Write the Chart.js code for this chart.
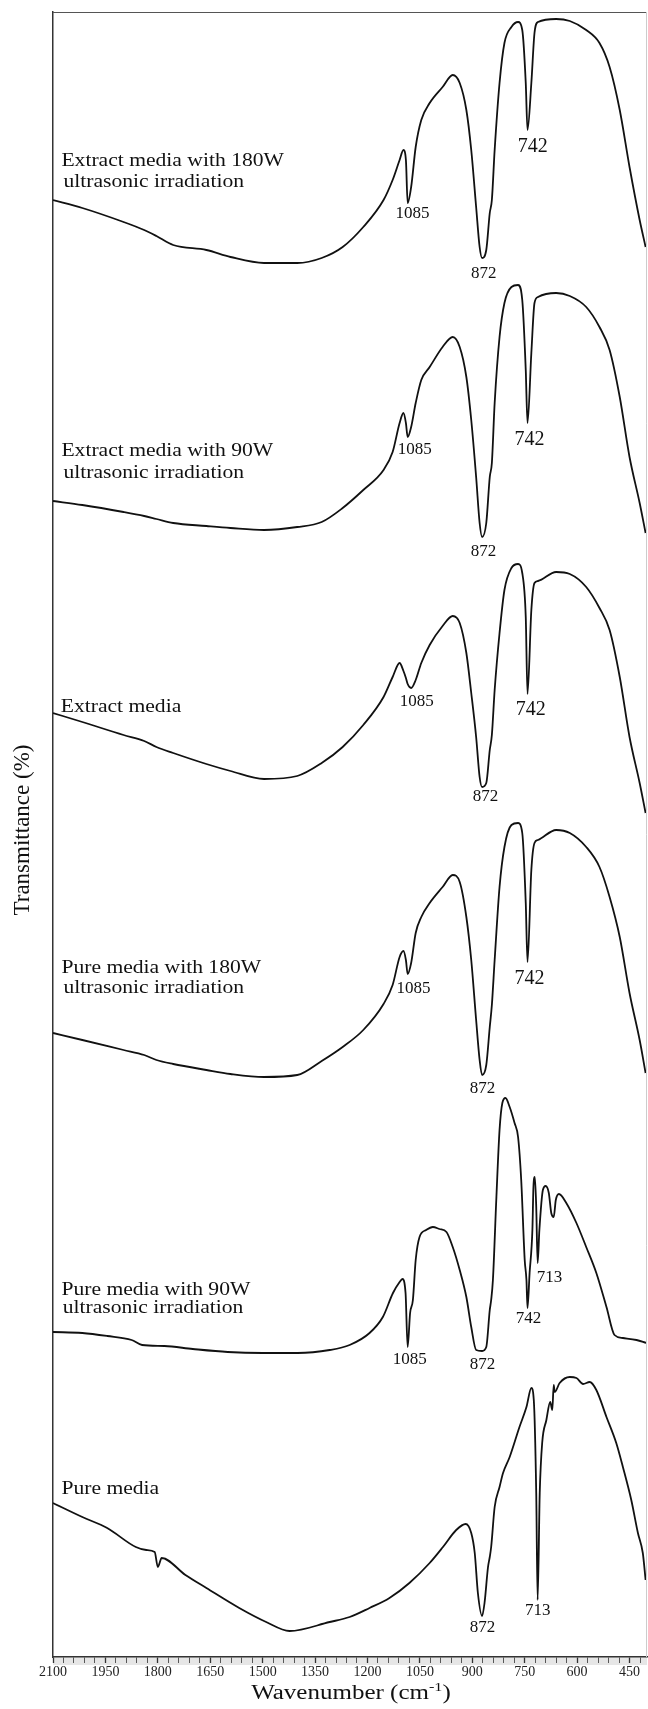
<!DOCTYPE html>
<html>
<head>
<meta charset="utf-8">
<script src="https://cdn.jsdelivr.net/npm/chart.js@4.4.1/dist/chart.umd.min.js"></script>
<style>
  html, body { margin: 0; padding: 0; background: #fff; }
  canvas { display: block; }
</style>
</head>
<body>
<canvas id="ftir" width="648" height="1709"></canvas>
<script>
// wavenumbers (cm-1) shared by the four upper spectra
const wnA = [2100, 2016, 1898, 1839, 1804, 1756, 1661, 1592, 1496, 1401,
  1331, 1271, 1212, 1154, 1128, 1108, 1097, 1090, 1085, 1075,
  1062, 1046, 1022, 985, 956, 936, 917, 903, 889, 879,
  872, 860, 850, 844, 836, 822, 808, 788, 769, 757,
  747, 742, 731, 722, 712, 660, 621, 574, 536, 507,
  478, 450, 421, 404];

// transmittance, stacked (arbitrary units, offset per spectrum)
const extract180 = [1457, 1449, 1435, 1427, 1421, 1412, 1407, 1400, 1394, 1394,
  1399, 1410, 1430, 1457, 1477, 1497, 1507, 1497, 1454, 1470,
  1510, 1537, 1554, 1570, 1582, 1574, 1547, 1507, 1450, 1410,
  1399, 1407, 1444, 1457, 1507, 1574, 1614, 1630, 1635, 1627,
  1574, 1527, 1574, 1624, 1635, 1638, 1636, 1627, 1614, 1590,
  1547, 1490, 1437, 1410];
const extract90 = [1156, 1152, 1145, 1141, 1138, 1134, 1131, 1129, 1127, 1130,
  1135, 1149, 1167, 1187, 1205, 1234, 1244, 1234, 1220, 1230,
  1254, 1277, 1290, 1310, 1320, 1310, 1280, 1237, 1180, 1134,
  1120, 1134, 1180, 1194, 1254, 1320, 1354, 1370, 1372, 1357,
  1287, 1234, 1304, 1354, 1360, 1364, 1361, 1350, 1330, 1307,
  1260, 1200, 1154, 1124];
const extractMedia = [944, 935, 922, 916, 910, 904, 893, 886, 878, 881,
  894, 910, 932, 960, 980, 994, 986, 979, 973, 969,
  977, 994, 1012, 1031, 1041, 1034, 1004, 964, 920, 880,
  870, 874, 907, 922, 967, 1024, 1067, 1089, 1093, 1084,
  1040, 963, 1047, 1074, 1076, 1085, 1083, 1070, 1049, 1027,
  980, 920, 874, 844];
const pure180 = [624, 617, 607, 602, 597, 593, 587, 583, 580, 582,
  596, 610, 627, 653, 672, 700, 706, 697, 683, 694,
  724, 740, 754, 770, 782, 775, 740, 697, 637, 597,
  582, 592, 630, 652, 697, 770, 810, 832, 834, 824,
  754, 695, 787, 814, 817, 827, 824, 810, 790, 760,
  720, 664, 617, 584];

const wnPure90 = [2100, 2016, 1945, 1875, 1845, 1781, 1700, 1600, 1500, 1400,
  1308, 1251, 1194, 1156, 1127, 1108, 1100, 1091, 1085, 1078,
  1070, 1062, 1051, 1032, 1013, 994, 974, 956, 936, 917,
  903, 889, 872, 860, 850, 846, 841, 831, 822, 814,
  805, 793, 779, 769, 760, 750, 745, 742, 736, 728,
  725, 721, 717, 713, 708, 698, 690, 681, 674, 667,
  661, 652, 631, 602, 574, 545, 516, 493, 469, 430,
  402];
const pure90 = [325, 324, 321, 317, 312, 311, 308, 305, 304, 304,
  307, 312, 324, 340, 364, 375, 378, 364, 310, 344,
  357, 397, 420, 427, 430, 428, 425, 410, 387, 360,
  330, 307, 306, 310, 347, 357, 377, 460, 527, 554,
  559, 550, 534, 520, 477, 397, 377, 349, 384, 427,
  470, 480, 450, 394, 427, 467, 471, 464, 444, 440,
  457, 463, 454, 434, 410, 384, 350, 322, 319, 317,
  314];

const wnPure = [2100, 2016, 1945, 1863, 1833, 1809, 1800, 1789, 1721, 1661,
  1567, 1490, 1423, 1308, 1251, 1194, 1137, 1080, 1022, 984,
  946, 919, 903, 893, 884, 872, 865, 855, 850, 846,
  836, 822, 812, 793, 765, 745, 731, 724, 717, 713,
  707, 700, 688, 677, 671, 667, 664, 650, 621, 602,
  583, 564, 545, 516, 488, 469, 445, 426, 412, 404];
const pure = [154, 140, 129, 110, 107, 105, 90, 99, 82, 69,
  49, 35, 26, 35, 40, 49, 59, 74, 94, 110,
  127, 133, 124, 104, 64, 41, 54, 90, 100, 110,
  150, 170, 184, 200, 230, 250, 269, 257, 164, 57,
  164, 214, 237, 255, 247, 272, 265, 274, 280, 279,
  273, 275, 267, 240, 214, 190, 157, 124, 104, 77];

const tickLabels = [2100, 1950, 1800, 1650, 1500, 1350, 1200, 1050, 900, 750, 600, 450];

// text placed on the plot (wavenumber / stacked value)
const nameLabels = [
  { text: 'Extract media with 180W', wn: 2076, v: 1491 },
  { text: 'ultrasonic irradiation', wn: 2070, v: 1470 },
  { text: 'Extract media with 90W', wn: 2076, v: 1201 },
  { text: 'ultrasonic irradiation', wn: 2070, v: 1179 },
  { text: 'Extract media', wn: 2078, v: 945 },
  { text: 'Pure media with 180W', wn: 2076, v: 684 },
  { text: 'ultrasonic irradiation', wn: 2070, v: 664 },
  { text: 'Pure media with 90W', wn: 2076, v: 362 },
  { text: 'ultrasonic irradiation', wn: 2072, v: 344 },
  { text: 'Pure media', wn: 2076, v: 163 }
];
const peakLabels = [
  { text: '1085', wn: 1071, v: 1443 }, { text: '872', wn: 867, v: 1383 }, { text: '742', wn: 727, v: 1510, big: true },
  { text: '1085', wn: 1065, v: 1207 }, { text: '872', wn: 868, v: 1105 }, { text: '742', wn: 736, v: 1217, big: true },
  { text: '1085', wn: 1059, v: 955 }, { text: '872', wn: 862, v: 860 }, { text: '742', wn: 733, v: 947, big: true },
  { text: '1085', wn: 1068, v: 668 }, { text: '872', wn: 871, v: 568 }, { text: '742', wn: 736, v: 678, big: true },
  { text: '1085', wn: 1079, v: 297 }, { text: '872', wn: 871, v: 292 }, { text: '742', wn: 739, v: 338 }, { text: '713', wn: 679, v: 379 },
  { text: '872', wn: 871, v: 29 }, { text: '713', wn: 713, v: 46 }
];

const serif = '"Liberation Serif", "Times New Roman", serif';
const ink = '#111';

function pts(xs, ys) {
  return xs.map((x, i) => ({ x: x, y: ys[i] }));
}

function series(xs, ys) {
  return {
    data: pts(xs, ys),
    borderColor: ink,
    borderWidth: 1.8,
    pointRadius: 0,
    fill: false,
    cubicInterpolationMode: 'monotone'
  };
}

function stretchedText(ctx, text, x, y, sx) {
  ctx.save();
  ctx.translate(x, y);
  ctx.scale(sx, 1);
  ctx.fillText(text, 0, 0);
  ctx.restore();
}

const axisBand = {
  id: 'axisBand',
  beforeDraw(chart) {
    const a = chart.chartArea, ctx = chart.ctx;
    ctx.save();
    ctx.fillStyle = '#e6e6e6';
    ctx.fillRect(a.left, a.bottom, a.right - a.left, 8);
    ctx.restore();
  }
};

const texts = {
  id: 'texts',
  afterDraw(chart) {
    const ctx = chart.ctx, a = chart.chartArea;
    const xs = chart.scales.x, ys = chart.scales.y;
    ctx.save();
    // frame top and right
    ctx.strokeStyle = '#555';
    ctx.lineWidth = 1;
    ctx.beginPath();
    ctx.moveTo(a.left, a.top + 0.5);
    ctx.lineTo(a.right, a.top + 0.5);
    ctx.stroke();
    ctx.strokeStyle = '#ccc';
    ctx.beginPath();
    ctx.moveTo(a.right - 0.5, a.top);
    ctx.lineTo(a.right - 0.5, a.bottom);
    ctx.stroke();

    ctx.fillStyle = ink;
    ctx.textAlign = 'left';
    ctx.textBaseline = 'alphabetic';
    ctx.font = '18px ' + serif;
    nameLabels.forEach(l => {
      stretchedText(ctx, l.text, xs.getPixelForValue(l.wn), ys.getPixelForValue(l.v), 1.2);
    });

    ctx.textAlign = 'center';
    ctx.textBaseline = 'middle';
    peakLabels.forEach(l => {
      ctx.font = (l.big ? '20px ' : '17px ') + serif;
      ctx.fillText(l.text, xs.getPixelForValue(l.wn), ys.getPixelForValue(l.v));
    });

    // y title
    ctx.save();
    ctx.translate(23, 830);
    ctx.rotate(-Math.PI / 2);
    ctx.font = '23px ' + serif;
    ctx.fillText('Transmittance (%)', 0, 0);
    ctx.restore();

    // x title with superscript
    const sx = 1.25;
    ctx.textAlign = 'left';
    ctx.textBaseline = 'alphabetic';
    ctx.font = '20px ' + serif;
    const p1 = 'Wavenumber (cm', p3 = ')';
    const w1 = ctx.measureText(p1).width, w3 = ctx.measureText(p3).width;
    ctx.font = '13px ' + serif;
    const w2 = ctx.measureText('-1').width;
    const total = (w1 + w2 + w3) * sx;
    const x0 = (a.left + a.right) / 2 + 1 - total / 2;
    const base = 1699;
    ctx.font = '20px ' + serif;
    stretchedText(ctx, p1, x0, base, sx);
    ctx.font = '13px ' + serif;
    stretchedText(ctx, '-1', x0 + w1 * sx, base - 8, sx);
    ctx.font = '20px ' + serif;
    stretchedText(ctx, p3, x0 + (w1 + w2) * sx, base, sx);
    ctx.restore();
  }
};

new Chart(document.getElementById('ftir').getContext('2d'), {
  type: 'line',
  data: {
    datasets: [
      series(wnA, extract180),
      series(wnA, extract90),
      series(wnA, extractMedia),
      series(wnA, pure180),
      series(wnPure90, pure90),
      series(wnPure, pure)
    ]
  },
  options: {
    responsive: false,
    animation: false,
    layout: { padding: { top: 12, right: 1, left: 0, bottom: 0 } },
    plugins: { legend: { display: false }, tooltip: { enabled: false } },
    scales: {
      x: {
        type: 'linear',
        reverse: true,
        min: 400,
        max: 2100,
        afterBuildTicks: scale => {
          const t = [];
          for (let v = 420; v <= 2100; v += 30) t.push({ value: v });
          scale.ticks = t;
        },
        afterFit: scale => { scale.height = 52; },
        grid: {
          drawOnChartArea: false,
          tickLength: 6,
          tickColor: '#333',
          tickWidth: ctx => tickLabels.includes(ctx.tick && ctx.tick.value) ? 1.3 : 0.8
        },
        border: { color: '#333', width: 1.5 },
        ticks: {
          autoSkip: false,
          maxRotation: 0,
          padding: 1,
          color: '#222',
          font: { family: serif, size: 14 },
          callback: value => tickLabels.includes(value) ? String(value) : ''
        }
      },
      y: {
        min: 0,
        max: 1645,
        afterFit: scale => { scale.width = 53; },
        ticks: { display: false },
        grid: { display: false },
        border: { display: true, color: '#333', width: 1.5 }
      }
    }
  },
  plugins: [axisBand, texts]
});
</script>
</body>
</html>
